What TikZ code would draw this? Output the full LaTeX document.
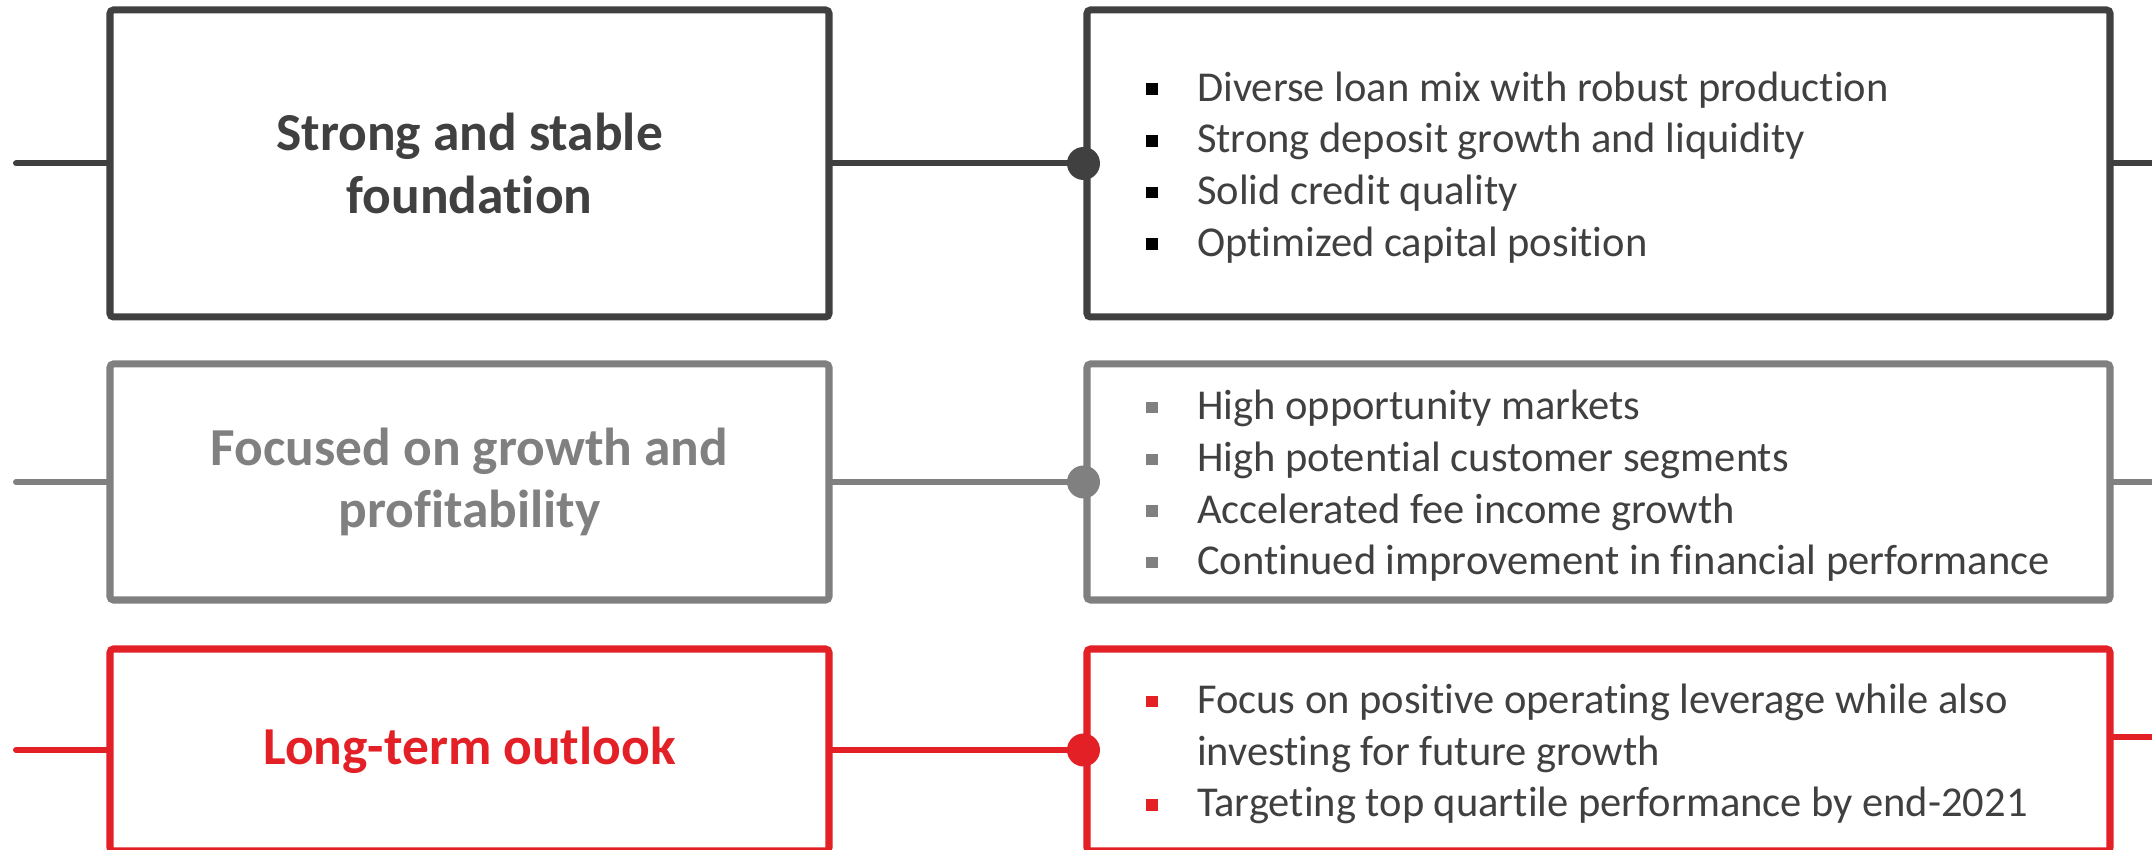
\documentclass[tikz,border=0pt]{standalone}
\usepackage{fontspec}
\setmainfont{Carlito}[Ligatures=NoCommon]
\usepackage{xcolor}

\definecolor{darkgrey}{RGB}{64,64,64}
\definecolor{midgrey}{RGB}{128,128,128}
\definecolor{outlookred}{RGB}{227,32,38}

% small square bullet in a given colour
\newcommand{\listbullet}[1]{\textcolor{#1}{\rule[0.15em]{0.27em}{0.27em}}}

\tikzset{
  titlebox/.style={draw=#1, text=#1, line width=2pt, rounded corners=1pt,
    minimum width=7.19cm, align=center, inner sep=0pt,
    font=\fontsize{15.2}{17.9}\selectfont\bfseries},
  listbox/.style={draw=#1, line width=2pt, rounded corners=1pt,
    minimum width=10.23cm, inner sep=0pt},
  listtext/.style={anchor=west, text=darkgrey, inner sep=0pt,
    font=\fontsize{12.1}{14.7}\selectfont},
  link/.style={draw=#1, line width=1.7pt, line cap=round},
  linkdot/.style={fill=#1, circle, inner sep=0pt, minimum size=0.33cm},
}

\begin{document}
\begin{tikzpicture}
    \useasboundingbox (0,0) rectangle (21.52,-8.50);

    % Row 1: strong and stable foundation
    \node[titlebox=darkgrey, minimum height=3.07cm] (titleA) at (4.695,-1.635)
        {Strong and stable\\foundation};
    \node[listbox=darkgrey, minimum height=3.07cm] (listA) at (15.985,-1.635) {};
    \node[listtext] (itemsA) at ([xshift=0.62cm,yshift=-0.05cm]listA.west) {%
        \begin{tabular}{@{}p{0.51cm}@{}l@{}}
        \listbullet{black} & Diverse loan mix with robust production\\
        \listbullet{black} & Strong deposit growth and liquidity\\
        \listbullet{black} & Solid credit quality\\
        \listbullet{black} & Optimized capital position
        \end{tabular}};

    % Row 2: growth and profitability
    \node[titlebox=midgrey, minimum height=2.36cm] (titleB) at (4.695,-4.82)
        {Focused on growth and\\profitability};
    \node[listbox=midgrey, minimum height=2.36cm] (listB) at (15.985,-4.82) {};
    \node[listtext] (itemsB) at ([xshift=0.62cm,yshift=-0.05cm]listB.west) {%
        \begin{tabular}{@{}p{0.51cm}@{}l@{}}
        \listbullet{midgrey} & High opportunity markets\\
        \listbullet{midgrey} & High potential customer segments\\
        \listbullet{midgrey} & Accelerated fee income growth\\
        \listbullet{midgrey} & Continued improvement in financial performance
        \end{tabular}};

    % Row 3: long-term outlook
    \node[titlebox=outlookred, minimum height=2.02cm] (titleC) at (4.695,-7.50)
        {Long-term outlook};
    \node[listbox=outlookred, minimum height=2.02cm] (listC) at (15.985,-7.50) {};
    \node[listtext] (itemsC) at ([xshift=0.62cm,yshift=-0.05cm]listC.west) {%
        \begin{tabular}{@{}p{0.51cm}@{}l@{}}
        \listbullet{outlookred} & Focus on positive operating leverage while also\\
         & investing for future growth\\
        \listbullet{outlookred} & Targeting top quartile performance by end-2021
        \end{tabular}};

    % free ends of the stubs
    \coordinate (startA) at (0.16,-1.635);
    \coordinate (startB) at (0.16,-4.82);
    \coordinate (startC) at (0.16,-7.50);
    \coordinate (endA) at (21.60,-1.635);
    \coordinate (endB) at (21.60,-4.82);
    \coordinate (endC) at (21.60,-7.37);

    % connectors
    \foreach \r/\c in {A/darkgrey,B/midgrey,C/outlookred} {
        \draw[link=\c] (start\r) -- (title\r.west);
        \draw[link=\c] (title\r.east) -- (list\r.west);
        \draw[link=\c] (list\r.east |- end\r) -- (end\r);
        \node[linkdot=\c] (dot\r) at (list\r.west) {};
    }
\end{tikzpicture}
\end{document}
